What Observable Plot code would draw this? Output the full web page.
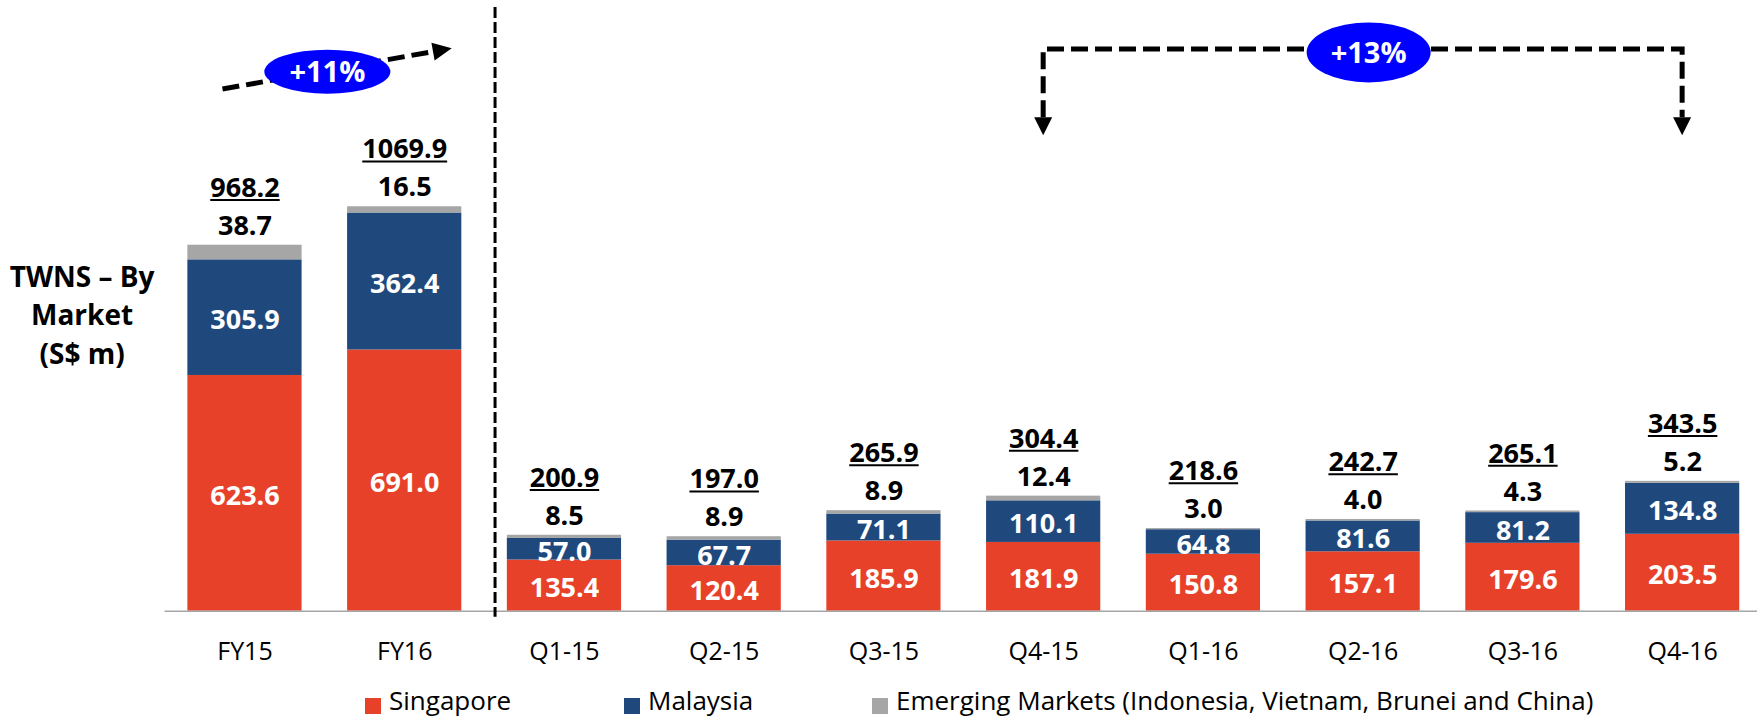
<!DOCTYPE html>
<html>
<head>
<meta charset="utf-8">
<script src="https://cdn.jsdelivr.net/npm/d3@7"></script>
<script src="https://cdn.jsdelivr.net/npm/@observablehq/plot@0.6"></script>
<style>
  html, body { margin: 0; padding: 0; background: #fff; }
  body { font-family: "Open Sans", sans-serif; width: 1757px; height: 717px; overflow: hidden; }
  #chart svg { display: block; }
  #legend { position: relative; height: 37px; font-size: 26px; color: #000; }
  .sw { position: absolute; top: 17.5px; width: 16px; height: 16px; }
  .lt { position: absolute; top: 4px; line-height: 32px; white-space: nowrap; }
</style>
</head>
<body>
<div id="chart"></div>
<div id="legend"></div>
<script>
// ---- data ----
const categories = ["FY15", "FY16", "Q1-15", "Q2-15", "Q3-15", "Q4-15", "Q1-16", "Q2-16", "Q3-16", "Q4-16"];
const markets = ["Singapore", "Malaysia", "Emerging Markets (Indonesia, Vietnam, Brunei and China)"];
const singapore = [623.6, 691.0, 135.4, 120.4, 185.9, 181.9, 150.8, 157.1, 179.6, 203.5];
const malaysia  = [305.9, 362.4, 57.0, 67.7, 71.1, 110.1, 64.8, 81.6, 81.2, 134.8];
const emerging  = [38.7, 16.5, 8.5, 8.9, 8.9, 12.4, 3.0, 4.0, 4.3, 5.2];
const totals    = [968.2, 1069.9, 200.9, 197.0, 265.9, 304.4, 218.6, 242.7, 265.1, 343.5];
const marketColors = ["#E8412A", "#1F497D", "#A6A6A6"];
const yTitle = "TWNS – By\nMarket\n(S$ m)";
const growth = [
  {from: "FY15", to: "FY16", label: "+11%"},
  {from: "Q4-15", to: "Q4-16", label: "+13%"}
];

// ---- derived tables ----
const series = [singapore, malaysia, emerging];
const rows = [];
categories.forEach((c, i) => {
  let base = 0;
  series.forEach((s, k) => {
    rows.push({cat: c, market: markets[k], value: s[i], y0: base, y1: base + s[i]});
    base += s[i];
  });
});
const tops = categories.map((c, i) => ({cat: c, top: singapore[i] + malaysia[i] + emerging[i], em: emerging[i], total: totals[i]}));

const H = 680, baseY = 610.7;
const bold = {fontWeight: "bold", fontSize: 27, textAnchor: "middle"};

const plot = Plot.plot({
  width: 1757,
  height: H,
  marginLeft: 164.6,
  marginRight: 0,
  marginTop: 0,
  marginBottom: H - baseY,
  style: {fontFamily: "'Open Sans', sans-serif", fontSize: "25px", color: "#000", background: "#fff", overflow: "visible"},
  x: {type: "band", domain: categories, range: [164.6, 1762], paddingInner: 0.285, paddingOuter: 0.1425, round: false, label: null},
  y: {domain: [0, 1615.6], axis: null},
  color: {domain: markets, range: marketColors},
  marks: [
    Plot.barY(rows, {x: "cat", y1: "y0", y2: "y1", fill: "market"}),
    Plot.ruleY([0], {stroke: "#a6a6a6", strokeWidth: 1.5}),
    Plot.ruleX(["Q1-15"], {dx: -69.4, insetTop: 7, insetBottom: -6, stroke: "#000", strokeWidth: 3, strokeDasharray: "11,4"}),
    Plot.axisX({tickSize: 0, tickPadding: 31, fontSize: 25, label: null, fill: "#000"}),
    Plot.text(rows.filter(r => r.market !== markets[2]), {x: "cat", y: r => (r.y0 + r.y1) / 2, text: r => r.value.toFixed(1), fill: "#fff", dy: 3, ...bold}),
    Plot.text(tops, {x: "cat", y: "top", text: d => d.em.toFixed(1), fill: "#000", dy: -19, ...bold}),
    Plot.text(tops, {x: "cat", y: "top", text: d => d.total.toFixed(1), fill: "#000", dy: -57, ariaDescription: "totals", ...bold}),
    Plot.text([yTitle], {frameAnchor: "left", text: d => d, dx: -83, dy: 7, lineHeight: 1.38, fill: "#000", ...bold, fontSize: 28})
  ]
});

document.getElementById("chart").appendChild(plot);
const svg = d3.select(plot);

// underline the totals (measured from the rendered text)
let totalTexts = svg.selectAll('g[aria-description="totals"] text');
if (totalTexts.empty()) {
  const labels = new Set(totals.map(v => v.toFixed(1)));
  totalTexts = svg.selectAll("text").filter(function () { return labels.has(this.textContent); });
}
totalTexts.each(function () {
  const b = this.getBBox();
  const baseline = b.y + b.height * (1.069 / 1.362);
  const line = document.createElementNS("http://www.w3.org/2000/svg", "line");
  this.parentNode.insertBefore(line, this.nextSibling);
  d3.select(line)
    .attr("transform", this.getAttribute("transform"))
    .attr("x1", b.x).attr("x2", b.x + b.width)
    .attr("y1", baseline + 3).attr("y2", baseline + 3)
    .attr("stroke", "#000").attr("stroke-width", 2);
});

// ---- growth annotations, positioned through the plot's scales ----
const X = plot.scale("x"), Y = plot.scale("y");
const cx = c => X.apply(c) + X.bandwidth / 2;
const ann = svg.append("g").attr("aria-label", "growth annotations");
const dash = {stroke: "#000", "stroke-width": 5, "stroke-dasharray": "17,7", fill: "none"};
function attrs(sel, o) { for (const k in o) sel.attr(k, o[k]); return sel; }
function badge(x, y, rx, ry, label) {
  ann.append("ellipse").attr("cx", x).attr("cy", y).attr("rx", rx).attr("ry", ry).attr("fill", "#0000FF");
  ann.append("text").attr("x", x).attr("y", y).attr("dy", "0.36em").attr("text-anchor", "middle")
    .attr("fill", "#fff").attr("font-weight", "bold").attr("font-size", 29).attr("font-family", "'Open Sans', sans-serif").text(label);
}

// +11% diagonal arrow
{
  const a = growth[0];
  const x1 = cx(a.from) - 22, y1 = Y.apply(1380);
  const xt = cx(a.to) + 47.5, yt = Y.apply(1488);
  const len = Math.hypot(xt - x1, yt - y1), ux = (xt - x1) / len, uy = (yt - y1) / len;
  const hl = 19, hw = 9;
  const bx = xt - ux * hl, by = yt - uy * hl;
  attrs(ann.append("path").attr("d", `M${x1},${y1}L${bx},${by}`), dash);
  ann.append("path").attr("d", `M${xt},${yt}L${bx - uy * hw},${by + ux * hw}L${bx + uy * hw},${by - ux * hw}Z`).attr("fill", "#000");
  badge((cx(a.from) + cx(a.to)) / 2 + 3, Y.apply(1426), 63, 22, a.label);
}
// +13% bracket
{
  const a = growth[1];
  const xl = cx(a.from), xr = cx(a.to);
  const yl = Y.apply(1486), yt = Y.apply(1258), hl = 18, hw = 9;
  attrs(ann.append("path").attr("d", `M${xl},${yt - hl}V${yl}H${xr}V${yt - hl}`), dash);
  for (const x of [xl, xr]) {
    ann.append("path").attr("d", `M${x},${yt}L${x - hw},${yt - hl}L${x + hw},${yt - hl}Z`).attr("fill", "#000");
  }
  badge((xl + xr) / 2 + 6, Y.apply(1477), 62, 30, a.label);
}

// ---- legend ----
const legendSwatchX = [365, 624, 872];
const legend = d3.select("#legend");
markets.forEach((m, i) => {
  legend.append("div").attr("class", "sw").style("left", legendSwatchX[i] + "px").style("background", marketColors[i]);
  legend.append("span").attr("class", "lt").style("left", (legendSwatchX[i] + 24) + "px").text(m);
});
</script>
</body>
</html>
